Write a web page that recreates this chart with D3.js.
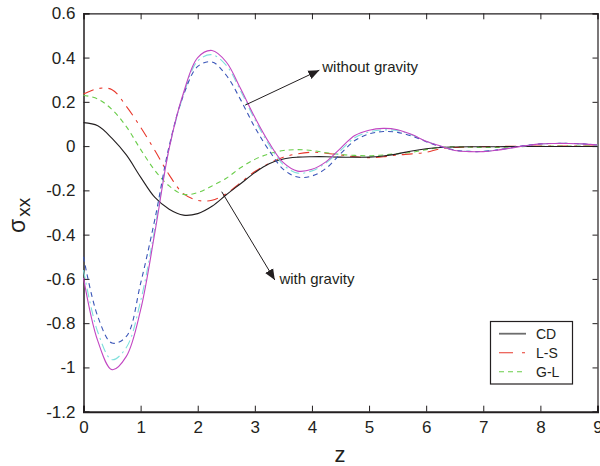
<!DOCTYPE html>
<html>
<head>
<meta charset="utf-8">
<script src="https://cdn.jsdelivr.net/npm/d3@7/dist/d3.min.js"></script>
<style>
  html, body { margin: 0; padding: 0; background: #fff; }
  svg { display: block; font-family: "Liberation Sans", Arial, Helvetica, sans-serif; }
  .tick text { fill: #231f20; }
</style>
</head>
<body>
<svg id="chart" width="600" height="466"></svg>
<script>
// axial position z (shared sampling grid for every curve)
const zs = [0, 0.25, 0.5, 0.75, 1, 1.25, 1.5, 1.75, 2, 2.25, 2.5, 2.75, 3, 3.25, 3.5, 3.75,
            4, 4.25, 4.5, 4.75, 5, 5.25, 5.5, 5.75, 6, 6.25, 6.5, 6.75, 7, 7.25, 7.5, 7.75,
            8, 8.25, 8.5, 8.75, 9];

// with gravity
const cdGrav = [0.106, 0.092, 0.035, -0.04, -0.14, -0.232, -0.285, -0.312, -0.305, -0.272, -0.22, -0.17,
                -0.12, -0.08, -0.058, -0.05, -0.048, -0.048, -0.05, -0.05, -0.05, -0.045, -0.035, -0.022,
                -0.012, -0.006, -0.004, -0.003, -0.003, -0.003, -0.002, -0.002, -0.002, -0.002, -0.002, -0.002, -0.002];
const lsGrav = [0.235, 0.26, 0.255, 0.18, 0.085, -0.02, -0.13, -0.215, -0.245, -0.245, -0.215, -0.165,
                -0.115, -0.078, -0.05, -0.035, -0.028, -0.032, -0.04, -0.048, -0.052, -0.048, -0.04, -0.035,
                -0.028, -0.012, -0.006, -0.004, -0.003, -0.002, -0.001, 0, 0, 0, 0, 0, 0];
const glGrav = [0.23, 0.213, 0.165, 0.088, -0.015, -0.11, -0.18, -0.218, -0.21, -0.18, -0.145, -0.098,
                -0.06, -0.035, -0.02, -0.016, -0.02, -0.03, -0.038, -0.042, -0.044, -0.04, -0.034, -0.028,
                -0.016, -0.006, -0.003, -0.005, -0.006, -0.006, -0.004, -0.002, -0.001, 0, 0, 0, 0];

// without gravity
const magNoGrav = [-0.595, -0.88, -1.01, -0.95, -0.74, -0.39, -0.01, 0.24, 0.40, 0.432, 0.38, 0.26,
                   0.13, 0.015, -0.075, -0.113, -0.105, -0.07, -0.01, 0.048, 0.072, 0.08, 0.074, 0.052,
                   0.022, 0.0, -0.02, -0.025, -0.025, -0.018, -0.008, 0.002, 0.01, 0.012, 0.012, 0.01, 0.005];
const cyanNoGrav = [-0.56, -0.84, -0.965, -0.91, -0.70, -0.37, -0.01, 0.23, 0.385, 0.413, 0.365, 0.25,
                    0.12, 0.005, -0.085, -0.122, -0.112, -0.075, -0.02, 0.038, 0.064, 0.073, 0.07, 0.05,
                    0.022, 0.0, -0.019, -0.024, -0.024, -0.017, -0.008, 0.002, 0.01, 0.012, 0.012, 0.01, 0.005];
const blueNoGrav = [-0.50, -0.77, -0.89, -0.86, -0.62, -0.33, 0.0, 0.23, 0.36, 0.38, 0.32, 0.21,
                    0.085, -0.02, -0.105, -0.14, -0.135, -0.1, -0.035, 0.025, 0.055, 0.066, 0.062, 0.045,
                    0.02, -0.002, -0.018, -0.024, -0.024, -0.017, -0.007, 0.003, 0.01, 0.012, 0.012, 0.01, 0.005];

const xTicks = [0, 1, 2, 3, 4, 5, 6, 7, 8, 9];
const yTicks = [-1.2, -1, -0.8, -0.6, -0.4, -0.2, 0, 0.2, 0.4, 0.6];
const legendLabels = ["CD", "L-S", "G-L"];

const svg = d3.select("#chart");
const plotLeft = 83.5, plotRight = 597.5, plotTop = 13.3, plotBottom = 411.7;

const x = d3.scaleLinear().domain([0, 9]).range([plotLeft, plotRight]);
const y = d3.scaleLinear().domain([-1.2, 0.6]).range([plotBottom, plotTop]);

const fmt = d => (Math.abs(d) < 1e-9 ? "0" : String(+d.toFixed(1)));

// axes: ticks point inward on all four sides
const gx = svg.append("g").attr("transform", `translate(0,${plotBottom})`)
  .call(d3.axisBottom(x).tickValues(xTicks).tickSize(-6).tickPadding(9).tickFormat(d3.format("d")));
const gy = svg.append("g").attr("transform", `translate(${plotLeft},0)`)
  .call(d3.axisLeft(y).tickValues(yTicks).tickSize(-6).tickPadding(8).tickFormat(fmt));
const gt = svg.append("g").attr("transform", `translate(0,${plotTop})`)
  .call(d3.axisTop(x).tickValues(xTicks).tickSize(-6).tickFormat(""));
const gr = svg.append("g").attr("transform", `translate(${plotRight},0)`)
  .call(d3.axisRight(y).tickValues(yTicks).tickSize(-5).tickFormat(""));

[gx, gy, gt, gr].forEach(g => {
  g.selectAll(".domain").attr("stroke", "#231f20").attr("stroke-width", 1.2);
  g.selectAll(".tick line").attr("stroke", "#231f20").attr("stroke-width", 1);
  g.selectAll(".tick text").attr("font-size", 17).attr("fill", "#231f20")
    .attr("font-family", "'Liberation Sans', Arial, sans-serif");
});
gx.select(".domain").attr("stroke-width", 2);
gy.select(".domain").attr("stroke-width", 1.5);

// curves
const series = [
  { vals: lsGrav,    color: "#e8382c", dash: "11,6,3,6", w: 1.1 },
  { vals: glGrav,    color: "#6acd4a", dash: "5,4",      w: 1.1 },
  { vals: cdGrav,    color: "#231f20", dash: null,       w: 1.1 },
  { vals: cyanNoGrav,color: "#7fe0dc", dash: "9,4,2,4",  w: 1.1 },
  { vals: blueNoGrav,color: "#3a55b8", dash: "5,4",      w: 1.1 },
  { vals: magNoGrav, color: "#c246c2", dash: null,       w: 1.1 }
];

const line = d3.line()
  .x((d, i) => x(zs[i]))
  .y(d => y(d))
  .curve(d3.curveCatmullRom.alpha(0.5));

const plot = svg.append("g");
series.forEach(s => {
  plot.append("path")
    .attr("d", line(s.vals))
    .attr("fill", "none")
    .attr("stroke", s.color)
    .attr("stroke-width", s.w)
    .attr("stroke-dasharray", s.dash);
});

// annotation arrows
const defs = svg.append("defs");
defs.append("marker")
  .attr("id", "head")
  .attr("viewBox", "0 0 10 10")
  .attr("refX", 10).attr("refY", 5)
  .attr("markerWidth", 11).attr("markerHeight", 11)
  .attr("markerUnits", "userSpaceOnUse")
  .attr("orient", "auto")
  .append("path").attr("d", "M0,0.8 L10,5 L0,9.2 Z").attr("fill", "#231f20");

function arrow(z0, v0, z1, v1) {
  svg.append("line")
    .attr("x1", x(z0)).attr("y1", y(v0))
    .attr("x2", x(z1)).attr("y2", y(v1))
    .attr("stroke", "#231f20").attr("stroke-width", 1)
    .attr("marker-end", "url(#head)");
}
arrow(2.83, 0.185, 4.13, 0.343);
arrow(2.42, -0.206, 3.35, -0.605);

svg.append("text").attr("x", x(4.18)).attr("y", y(0.336))
  .attr("font-size", 15).attr("fill", "#231f20").text("without gravity");
svg.append("text").attr("x", x(3.43)).attr("y", y(-0.624))
  .attr("font-size", 15).attr("fill", "#231f20").text("with gravity");

// legend
const lg = svg.append("g");
lg.append("rect").attr("x", 490.5).attr("y", 321.5).attr("width", 82).attr("height", 62.5)
  .attr("fill", "#fff").attr("stroke", "#231f20").attr("stroke-width", 1.2);
const legendStyles = [
  { color: "#6d6d6d", dash: null, w: 1.8 },
  { color: "#e8382c", dash: "14,9,3,100", w: 1.1 },
  { color: "#6acd4a", dash: "5,4", w: 1.1 }
];
legendLabels.forEach((lab, i) => {
  const yy = 333.7 + i * 19;
  lg.append("line").attr("x1", 499).attr("x2", 526).attr("y1", yy).attr("y2", yy)
    .attr("stroke", legendStyles[i].color).attr("stroke-width", legendStyles[i].w)
    .attr("stroke-dasharray", legendStyles[i].dash);
  lg.append("text").attr("x", 536).attr("y", yy + 5).attr("font-size", 14)
    .attr("fill", "#231f20").text(lab);
});

// axis titles
svg.append("text").attr("x", 340).attr("y", 461.5).attr("text-anchor", "middle")
  .attr("font-size", 22).attr("fill", "#231f20").text("z");
const yl = svg.append("text").attr("transform", "translate(25,233) rotate(-90)")
  .attr("fill", "#231f20");
yl.append("tspan").attr("font-size", 23).text("σ");
yl.append("tspan").attr("font-size", 19).attr("dy", 5).attr("dx", 2).text("xx");
</script>
</body>
</html>
